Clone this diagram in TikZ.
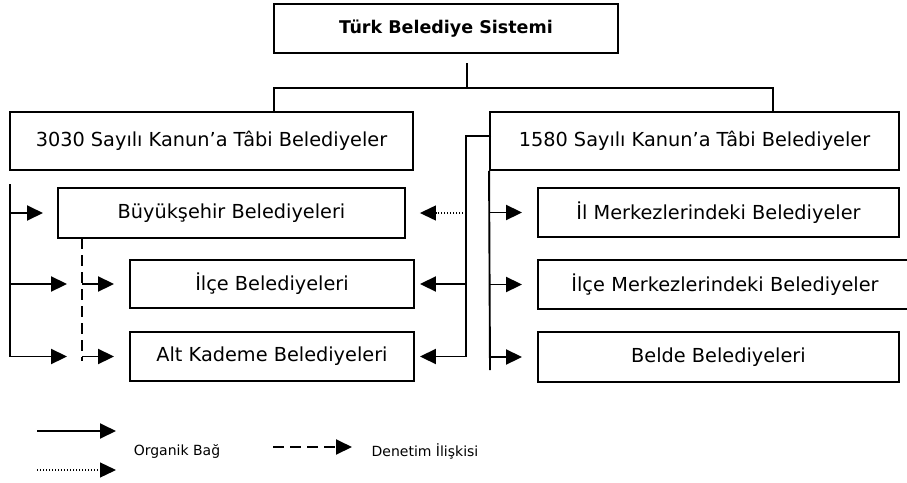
\documentclass[tikz,border=0pt]{standalone}
\usepackage{fontspec}
\setmainfont{DejaVu Sans}
\usetikzlibrary{arrows.meta}
\begin{document}
\begin{tikzpicture}[x=1pt,y=-1pt,
  line width=1.9pt,
  box/.style={draw,line width=1.9pt,inner sep=0pt,align=center,font=\fontsize{19.3}{23}\selectfont},
  arr/.style={-{Triangle[length=16pt,width=15pt]}},
  dotline/.style={line width=1.3pt,dash pattern=on 1.4pt off 1.6pt},
  dashline/.style={dash pattern=on 11pt off 6pt},
  legtext/.style={font=\fontsize{14}{17}\selectfont,inner sep=0pt}]
\useasboundingbox (0,0) rectangle (907,482);
\clip (0,0) rectangle (907,482);
% boxes
\node[box,minimum width=344pt,minimum height=49pt,font=\fontsize{17.5}{21}\selectfont\bfseries] (title) at (446,28.5) {Türk Belediye Sistemi};
\node[box,minimum width=403pt,minimum height=58pt] (k3030) at (211.5,141) {3030 Sayılı Kanun’a Tâbi Belediyeler};
\node[box,minimum width=409pt,minimum height=58pt] (k1580) at (694.5,141) {1580 Sayılı Kanun’a Tâbi Belediyeler};
\node[box,minimum width=347pt,minimum height=50pt] (buyuk) at (231.5,213) {Büyükşehir Belediyeleri};
\node[box,minimum width=284pt,minimum height=48pt] (ilce) at (272,284) {İlçe Belediyeleri};
\node[box,minimum width=284pt,minimum height=49pt] (alt) at (272,356.5) {Alt Kademe Belediyeleri};
\node[box,minimum width=361pt,minimum height=49pt] (ilm) at (718.5,212.5) {İl Merkezlerindeki Belediyeler};
\node[box,minimum width=374pt,minimum height=49pt,text width=372pt] (ilcem) at (725,284.5) {İlçe Merkezlerindeki Belediyeler};
\node[box,minimum width=361pt,minimum height=50pt] (belde) at (718.5,357) {Belde Belediyeleri};
% top tree
\coordinate (stem) at (467,63);
\coordinate (j) at (467,88);
\coordinate (jl) at (274,88);
\coordinate (jr) at (773,88);
\draw (stem) -- (j);
\draw (jl |- k3030.north) -- (jl) -- (jr) -- (jr |- k1580.north);
% left tree (3030)
\coordinate (lt) at (10,184);
\coordinate (lb) at (10,357);
\draw (lt) -- (lb);
\draw[arr] (lt |- buyuk) -- (43,213);
\draw[arr] (lt |- ilce) -- ([xshift=-62pt]ilce.west);
\draw[arr] (10,356.5) -- ([xshift=-62pt]alt.west);
% supervision (dashed)
\coordinate (dt) at (82,238);
\coordinate (db) at (82,361);
\draw[dashline] (dt) -- (db);
\draw[arr] (dt |- ilce) -- ([xshift=-15pt]ilce.west);
\draw[arr] (dt |- alt) -- ([xshift=-15pt]alt.west);
% 1580 left connector
\coordinate (rl) at (466,136);
\draw (k1580.west |- rl) ++(2,0) -- (rl) -- (466,356.5);
\draw[arr,dotline] (rl |- buyuk) -- ([xshift=14pt]buyuk.east);
\draw[arr] (rl |- ilce) -- ([xshift=5pt]ilce.east);
\draw[arr] (rl |- alt) -- ([xshift=5pt]alt.east);
% 1580 right tree
\coordinate (rb) at (490,370);
\draw (k1580.south west) -- (rb);
\draw[arr] (k1580.west |- ilm) -- ([xshift=-15pt]ilm.west);
\draw[arr] (k1580.west |- ilcem) -- ([xshift=-15pt]ilcem.west);
\draw[arr] (k1580.west |- belde) -- ([xshift=-15pt]belde.west);
% legend
\coordinate (l1a) at (37,431); \coordinate (l1b) at (116,431);
\coordinate (l2a) at (37,470); \coordinate (l2b) at (116,470);
\coordinate (l3a) at (273,447); \coordinate (l3b) at (352,447);
\draw[arr] (l1a) -- (l1b);
\draw[arr,dotline] (l2a) -- (l2b);
\draw[arr,dashline] (l3a) -- (l3b);
\node[legtext] (org) at (177,451) {Organik Bağ};
\node[legtext] (den) at (425,451) {Denetim İlişkisi};
\end{tikzpicture}
\end{document}
